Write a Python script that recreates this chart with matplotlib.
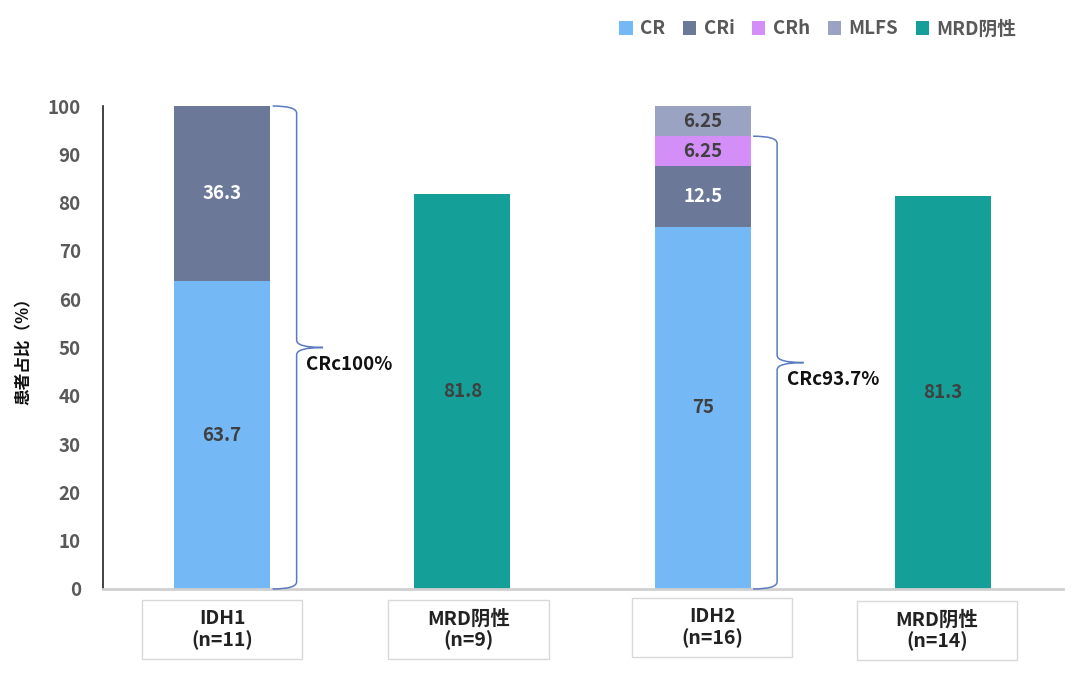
import matplotlib
matplotlib.use("Agg")
import matplotlib.pyplot as plt
from matplotlib.patches import Rectangle, PathPatch
from matplotlib.path import Path
import matplotlib.transforms as mtransforms

plt.rcParams['font.family'] = ['Noto Sans CJK SC', 'DejaVu Sans']

categories = ["IDH1\n(n=11)", "MRD阴性\n(n=9)", "IDH2\n(n=16)", "MRD阴性\n(n=14)"]
series_names = ["CR", "CRi", "CRh", "MLFS", "MRD阴性"]
cr = [63.7, 0, 75, 0]
cri = [36.3, 0, 12.5, 0]
crh = [0, 0, 6.25, 0]
mlfs = [0, 0, 6.25, 0]
mrd = [0, 81.8, 0, 81.3]
crc_labels = ["CRc100%", "CRc93.7%"]
crc_tops = [100, 93.75]
crc_bars = [0, 2]
yticks = [0, 10, 20, 30, 40, 50, 60, 70, 80, 90, 100]

colors = ["#74B9F6", "#6B7897", "#D38FF7", "#9AA3C2", "#14A098"]

fig = plt.figure(figsize=(10.8, 6.97), dpi=100)
ax = fig.add_axes([103/1080, 1-589/697, 960/1080, 483/697])

x = list(range(len(categories)))
width = 0.4
series = [cr, cri, crh, mlfs, mrd]
bottom = [0.0]*len(x)
handles = []
for name, vals, col in zip(series_names, series, colors):
    h = ax.bar(x, vals, width, bottom=bottom, color=col, label=name, zorder=2)
    handles.append(h)
    for i, v in enumerate(vals):
        if v > 0:
            lbl = f"{v:g}"
            ax.text(x[i], bottom[i] + v/2, lbl, ha='center', va='center',
                    fontsize=13.5, fontweight='bold',
                    color='white' if col == "#6B7897" else '#404040')
    bottom = [b + v for b, v in zip(bottom, vals)]

ax.set_xlim(-0.496, 3.5)
ax.set_ylim(0, 100)
ax.set_yticks(yticks)
ax.tick_params(axis='y', length=0, pad=16, labelsize=13.5, labelcolor='#595959')
for lab in ax.get_yticklabels():
    lab.set_fontweight('bold')
ax.set_xticks([])
for s in ['top', 'right']:
    ax.spines[s].set_visible(False)
ax.spines['left'].set_color('#222222')
ax.spines['left'].set_linewidth(1.2)
ax.spines['bottom'].set_color('#d0d0d0')
ax.spines['bottom'].set_linewidth(2)
ax.set_ylabel("患者占比（%）", fontsize=12, fontweight='bold', color='#111111')
ax.yaxis.set_label_coords(-0.073, 0.5)

# category boxes (small per-box nudges as in the reference)
trans = mtransforms.blended_transform_factory(ax.transData, ax.transAxes)
box_w = 0.667
box_dx = [0.0, 0.025, 0.04, -0.025]
box_dy = [0.0, 0.0, 0.004, -0.002]
for i, c in enumerate(categories):
    cx = x[i] + box_dx[i]
    r = Rectangle((cx-box_w/2, -0.145 + box_dy[i]), box_w, 0.122, transform=trans,
                  facecolor='white', edgecolor='#d9d9d9', lw=1, clip_on=False)
    ax.add_patch(r)
    ax.text(cx, -0.084 + box_dy[i], c, transform=trans, ha='center', va='center',
            fontsize=14, fontweight='bold', color='#222222', linespacing=1.15)

# braces
for bi, top, lbl in zip(crc_bars, crc_tops, crc_labels):
    x0 = x[bi] + width/2 + 0.01
    xv = x[bi] + 0.31
    xt = x[bi] + 0.42
    mid = top/2
    r = 1.5
    verts = [
        (x0, top), (xv, top), (xv, top - r),
        (xv, mid + r), (xv, mid), (xt, mid),
        (xv, mid), (xv, mid - r),
        (xv, r), (xv, 0), (x0, 0),
    ]
    codes = [Path.MOVETO, Path.CURVE3, Path.CURVE3,
             Path.LINETO, Path.CURVE3, Path.CURVE3,
             Path.CURVE3, Path.CURVE3,
             Path.LINETO, Path.CURVE3, Path.CURVE3]
    ax.add_patch(PathPatch(Path(verts, codes), facecolor='none',
                           edgecolor='#5B7BC0', lw=1.1, clip_on=False, zorder=3))
    ax.text(x[bi] + 0.35, mid - 3.6, lbl, ha='left', va='center',
            fontsize=13.5, fontweight='bold', color='#111111')

leg = fig.legend(handles=handles, labels=series_names, loc='center',
                 bbox_to_anchor=(818/1080, 1-29/697), ncol=5, frameon=False,
                 handlelength=0.7, handleheight=0.7, handletextpad=0.4,
                 columnspacing=0.95, prop={'weight': 'bold', 'size': 13.5})
for t in leg.get_texts():
    t.set_color('#595959')

fig.savefig("out.png", dpi=100)
